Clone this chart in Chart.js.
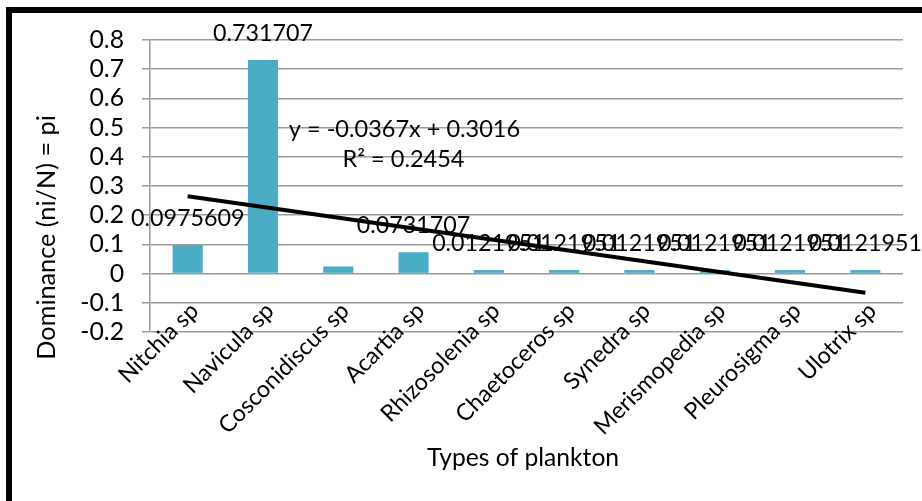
<!DOCTYPE html>
<html>
<head>
<meta charset="utf-8">
<script src="https://cdn.jsdelivr.net/npm/chart.js@4.4.0/dist/chart.umd.min.js"></script>
<style>
    html, body { margin: 0; padding: 0; background: #fff; overflow: hidden; }
    #wrap { position: relative; width: 922px; height: 501px; }
    #frame {
        position: absolute; left: 6px; top: 7px; width: 940px; height: 520px;
        border-left: 6px solid #000; border-top: 6px solid #000;
        pointer-events: none;
    }
</style>
</head>
<body>
<div id="wrap">
    <canvas id="planktonChart"></canvas>
    <div id="frame"></div>
</div>
<script>
// Dados
const categories = ['Nitchia sp', 'Navicula sp', 'Cosconidiscus sp', 'Acartia sp', 'Rhizosolenia sp',
    'Chaetoceros sp', 'Synedra sp', 'Merismopedia sp', 'Pleurosigma sp', 'Ulotrix sp'];
const dominance = [0.0975609, 0.731707, 0.0243902, 0.0731707, 0.0121951,
    0.0121951, 0.0121951, 0.0121951, 0.0121951, 0.0121951];
const hiddenLabels = [2];   // rótulo de Cosconidiscus não aparece
// linha de tendência linear (pontos extremos)
const trendLine = [0.2649, null, null, null, null, null, null, null, null, -0.0654];
const trendText = ['y = -0.0367x + 0.3016', 'R² = 0.2454'];
const yTicks = [-0.2, -0.1, 0, 0.1, 0.2, 0.3, 0.4, 0.5, 0.6, 0.7, 0.8];
const xTitle = 'Types of plankton';
const yTitle = 'Dominance (ni/N) = pi';

const FONT = 'Lato, "Open Sans", sans-serif';
const gridColor = '#9a9a9a';

// tamanho de fonte que dá a largura de tinta desejada (Calibri não existe aqui)
const measureCtx = document.createElement('canvas').getContext('2d');
function fitSize(text, inkWidth) {
    measureCtx.font = '100px ' + FONT;
    const m = measureCtx.measureText(text);
    const w = m.actualBoundingBoxLeft + m.actualBoundingBoxRight;
    return 100 * inkWidth / w;
}
// mesmo, mas para texto a 45° (largura horizontal da caixa)
function fitRotated(text, boxWidth) {
    measureCtx.font = '100px ' + FONT;
    const m = measureCtx.measureText(text);
    const w = m.actualBoundingBoxLeft + m.actualBoundingBoxRight;
    const h = m.actualBoundingBoxAscent + m.actualBoundingBoxDescent;
    return 100 * boxWidth / ((w + h) * 0.7071);
}

const sizeYTick = fitSize('-0.1', 40.6);
const sizeXTick = (fitRotated('Nitchia sp', 84) + fitRotated('Navicula sp', 95) +
    fitRotated('Cosconidiscus sp', 136) + fitRotated('Merismopedia sp', 139)) / 4;
const sizeLabel = (fitSize('0.0975609', 111.7) + fitSize('0.731707', 98.3)) / 2;
const sizeEq = (fitSize(trendText[0], 229) + fitSize(trendText[1], 120)) / 2;
const sizeXTitle = fitSize(xTitle, 190.6);
const sizeYTitle = fitSize(yTitle, 241);
const xTickLine = sizeXTick * 1.2;

// Plugin simples para rótulos, títulos e equação
const extrasPlugin = {
    id: 'extras',
    afterDatasetsDraw(chart) {
        const ctx = chart.ctx;
        ctx.save();
        ctx.fillStyle = '#000';
        ctx.textAlign = 'center';
        ctx.textBaseline = 'alphabetic';

        // rótulos de dados (barras = dataset 1)
        ctx.font = sizeLabel + 'px ' + FONT;
        const meta = chart.getDatasetMeta(1);
        meta.data.forEach(function(bar, i) {
            if (hiddenLabels.includes(i)) return;
            ctx.fillText(String(dominance[i]), bar.x, bar.y - 19);
        });

        // equação da tendência
        ctx.font = sizeEq + 'px ' + FONT;
        ctx.fillText(trendText[0], 404.5, 136.5);
        ctx.fillText(trendText[1], 403.5, 166.5);

        // título do eixo x
        ctx.font = sizeXTitle + 'px ' + FONT;
        ctx.fillText(xTitle, 523, 466);

        // título do eixo y
        ctx.font = sizeYTitle + 'px ' + FONT;
        ctx.translate(55, 237.5);
        ctx.rotate(-Math.PI / 2);
        ctx.fillText(yTitle, 0, 0);
        ctx.restore();
    }
};

document.addEventListener('DOMContentLoaded', function() {
    const ctx = document.getElementById('planktonChart').getContext('2d');

    new Chart(ctx, {
        type: 'bar',
        data: {
            labels: categories,
            datasets: [
                {
                    type: 'line',
                    label: 'Linear',
                    data: trendLine,
                    borderColor: '#000',
                    borderWidth: 4,
                    pointRadius: 0,
                    spanGaps: true,
                    fill: false,
                    order: 0
                },
                {
                    label: 'Dominance',
                    data: dominance,
                    backgroundColor: '#4bacc6',
                    borderWidth: 0,
                    barPercentage: 0.4,
                    categoryPercentage: 1.0,
                    order: 1
                }
            ]
        },
        options: {
            responsive: true,
            maintainAspectRatio: false,
            animation: false,
            layout: {
                padding: { top: 40, right: 19, left: 0, bottom: 0 }
            },
            plugins: {
                legend: { display: false },
                tooltip: { enabled: false }
            },
            scales: {
                x: {
                    grid: { display: false, drawTicks: false },
                    border: { display: false },
                    ticks: {
                        color: '#000',
                        font: { family: FONT, size: sizeXTick, lineHeight: 1.2 },
                        minRotation: 45,
                        maxRotation: 45,
                        autoSkip: false,
                        // mirror evita o recorte; rótulos ficam sobre a área negativa como no Excel
                        mirror: true,
                        padding: 25 - xTickLine * 0.3536,
                        labelOffset: 7 + xTickLine * 0.7071
                    },
                    afterFit: function(scale) { scale.height = 169; }
                },
                y: {
                    min: -0.2,
                    max: 0.8,
                    afterBuildTicks: function(scale) {
                        scale.ticks = yTicks.map(function(v) { return { value: v }; });
                    },
                    grid: { color: gridColor, lineWidth: 1.5, tickLength: 8 },
                    border: { display: true, color: gridColor, width: 1.5 },
                    ticks: {
                        color: '#000',
                        font: { family: FONT, size: sizeYTick },
                        padding: 18,
                        autoSkip: false,
                        callback: function(v) { return String(Number(v.toFixed(1))); }
                    },
                    afterFit: function(scale) { scale.width = 150; }
                }
            }
        },
        plugins: [extrasPlugin]
    });
});
</script>
</body>
</html>
